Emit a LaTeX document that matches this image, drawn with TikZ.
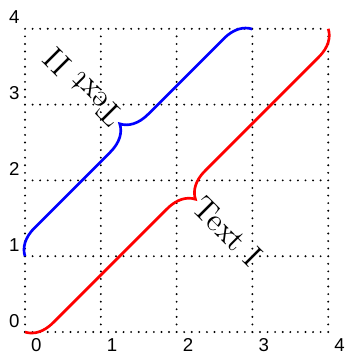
\documentclass[tikz,border=0pt]{standalone}
\usepackage{fontspec}
\newfontfamily\ticksfont{Liberation Sans}
\usetikzlibrary{decorations.pathreplacing}

\begin{document}
\begin{tikzpicture}[
    gridline/.style={line width=0.8pt, line cap=round, dash pattern=on 0pt off 2.8453pt},
    tick/.style={font=\ticksfont\fontsize{7}{8}\selectfont, inner sep=0pt},
    bracepath/.style={line width=1pt, decorate, decoration={brace, amplitude=10pt}},
    bracetext/.style={anchor=west, inner sep=1pt, font=\large}
  ]
  \useasboundingbox (-0.33,-0.29) rectangle (4.22,4.38);
  % dotted grid and tick labels
  \foreach \i in {0,...,4} {
    \draw[gridline] (\i,0) -- (\i,4);
    \draw[gridline] (0,\i) -- (4,\i);
    \node[tick] (x\i) at (\i+0.15,-0.17) {\i};
    \node[tick] (y\i) at (-0.14,\i+0.15) {\i};
  }
  % brace ends and tips
  \coordinate (r0) at (0,0);
  \coordinate (r1) at (4,4);
  \coordinate (b0) at (0,1);
  \coordinate (b1) at (3,4);
  \draw[bracepath, red, decoration={mirror}] (r0) -- (r1);
  \draw[bracepath, blue] (b0) -- (b1);
  \node[bracetext, rotate=-45] (textI) at (2.25,1.75) {Text I};
  \node[bracetext, rotate=135] (textII) at (1.25,2.75) {Text II};
\end{tikzpicture}
\end{document}
